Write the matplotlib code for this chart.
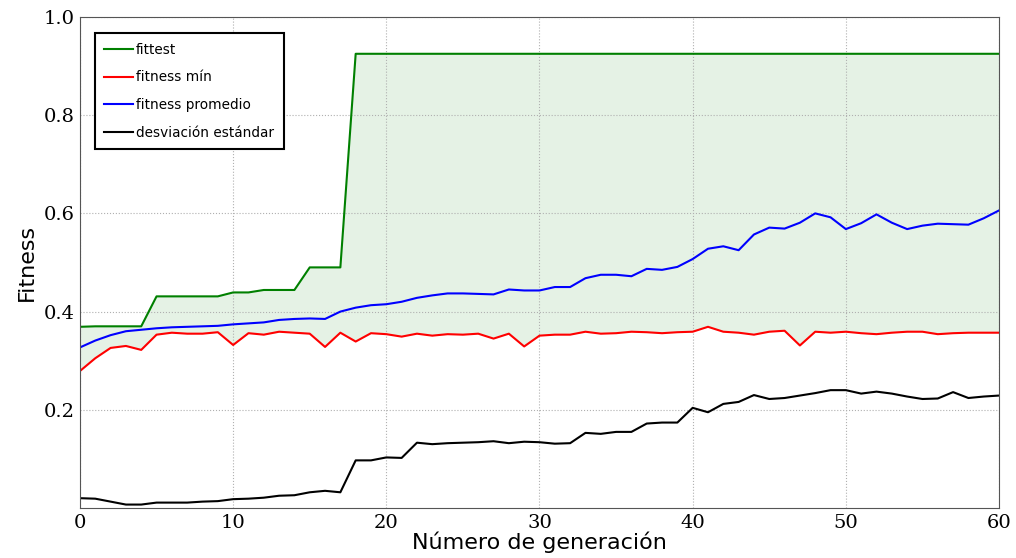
import numpy as np
import matplotlib
matplotlib.use('Agg')
import matplotlib.pyplot as plt

generaciones = list(range(61))

fittest = [0.369, 0.370, 0.370, 0.370, 0.370,
           0.431, 0.431, 0.431, 0.431, 0.431,
           0.439, 0.439, 0.444, 0.444, 0.444,
           0.490, 0.490, 0.490] + [0.925] * 43

fitness_min = [0.279, 0.305, 0.326, 0.330, 0.322, 0.353, 0.357, 0.355, 0.355, 0.358,
               0.332, 0.356, 0.353, 0.359, 0.357, 0.355, 0.328, 0.357, 0.339, 0.356,
               0.354, 0.349, 0.355, 0.351, 0.354, 0.353, 0.355, 0.345, 0.355, 0.329,
               0.351, 0.353, 0.353, 0.359, 0.355, 0.356, 0.359, 0.358, 0.356, 0.358,
               0.359, 0.369, 0.359, 0.357, 0.353, 0.359, 0.361, 0.331, 0.359, 0.357,
               0.359, 0.356, 0.354, 0.357, 0.359, 0.359, 0.354, 0.356, 0.357, 0.357,
               0.357]

fitness_prom = [0.327, 0.341, 0.352, 0.360, 0.363, 0.366, 0.368, 0.369, 0.370, 0.371,
                0.374, 0.376, 0.378, 0.383, 0.385, 0.386, 0.385, 0.400, 0.408, 0.413,
                0.415, 0.420, 0.428, 0.433, 0.437, 0.437, 0.436, 0.435, 0.445, 0.443,
                0.443, 0.450, 0.450, 0.468, 0.475, 0.475, 0.472, 0.487, 0.485, 0.491,
                0.507, 0.528, 0.533, 0.525, 0.557, 0.571, 0.569, 0.581, 0.600, 0.592,
                0.568, 0.580, 0.598, 0.581, 0.568, 0.575, 0.579, 0.578, 0.577, 0.590,
                0.606]

desviacion = [0.020, 0.019, 0.013, 0.007, 0.007, 0.011, 0.011, 0.011, 0.013, 0.014,
              0.018, 0.019, 0.021, 0.025, 0.026, 0.032, 0.035, 0.032, 0.097, 0.097,
              0.103, 0.102, 0.133, 0.130, 0.132, 0.133, 0.134, 0.136, 0.132, 0.135,
              0.134, 0.131, 0.132, 0.153, 0.151, 0.155, 0.155, 0.172, 0.174, 0.174,
              0.204, 0.195, 0.212, 0.216, 0.230, 0.222, 0.224, 0.229, 0.234, 0.240,
              0.240, 0.233, 0.237, 0.233, 0.227, 0.222, 0.223, 0.236, 0.224, 0.227,
              0.229]

fig = plt.figure(figsize=(10.16, 5.58), dpi=100)
ax = fig.add_axes([0.0787, 0.0896, 0.9046, 0.88])

ax.fill_between(generaciones, fitness_min, fittest, color='green', alpha=0.1, lw=0)
ax.plot(generaciones, fittest, color='green', lw=1.5, label='fittest')
ax.plot(generaciones, fitness_min, color='red', lw=1.5, label='fitness mín')
ax.plot(generaciones, fitness_prom, color='blue', lw=1.5, label='fitness promedio')
ax.plot(generaciones, desviacion, color='black', lw=1.5, label='desviación estándar')

ax.set_xlim(0, 60)
ax.set_ylim(0, 1.0)
ax.set_yticks([0.2, 0.4, 0.6, 0.8, 1.0])
ax.set_xticks([0, 10, 20, 30, 40, 50, 60])
ax.grid(True, color='#b0b0b0', linestyle=':', lw=0.8)
for lbl in ax.get_xticklabels() + ax.get_yticklabels():
    lbl.set_family('DejaVu Serif')
    lbl.set_fontsize(14)
ax.tick_params(length=0, pad=4)
for s in ax.spines.values():
    s.set_color('#555555')

ax.set_xlabel('Número de generación', fontsize=16, labelpad=0)
ax.set_ylabel('Fitness', fontsize=16, labelpad=5)

leg = ax.legend(loc='upper left', bbox_to_anchor=(0.0163, 0.967), borderaxespad=0,
                fontsize=9.8, fancybox=False, handlelength=2.13, handletextpad=0.2,
                labelspacing=1.0, borderpad=0.7, framealpha=1)
leg.get_frame().set_edgecolor('black')
leg.get_frame().set_linewidth(1.5)

fig.savefig('out.png', dpi=100)
